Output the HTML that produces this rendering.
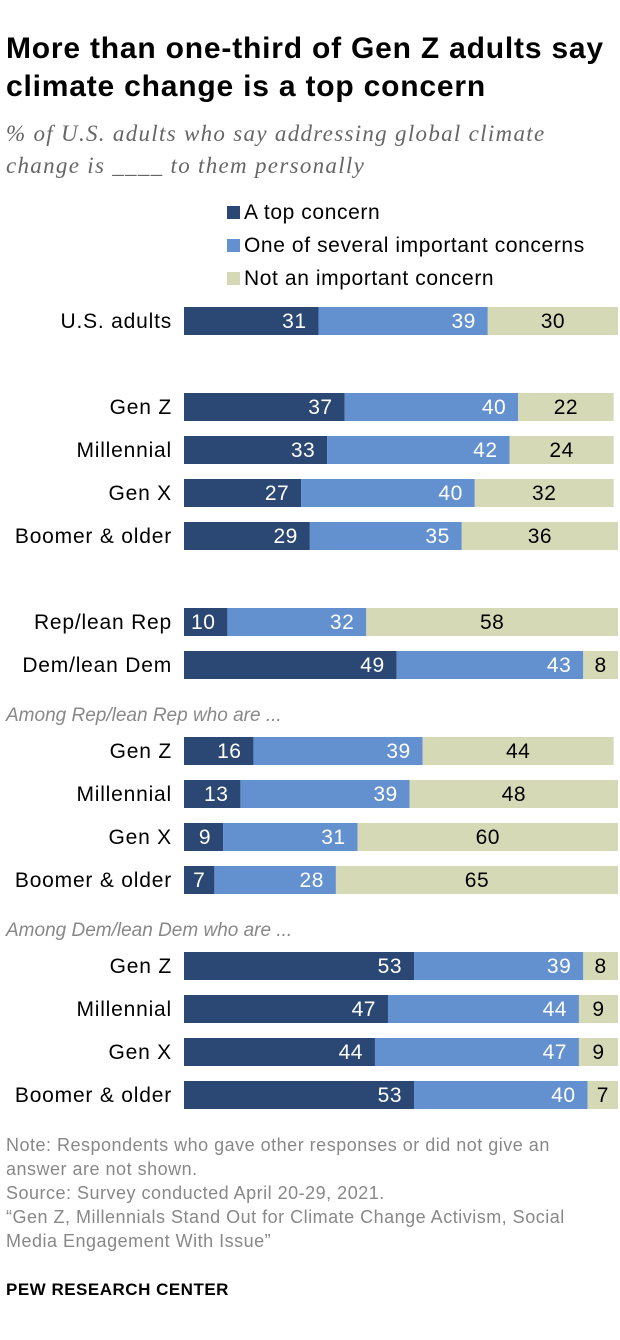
<!DOCTYPE html>
<html><head><meta charset="utf-8"><style>
body{margin:0;background:#fff;font-family:"Liberation Sans",sans-serif;}
#wrap{position:relative;width:620px;height:1340px;overflow:hidden;}
.t{position:absolute;white-space:nowrap;}
</style></head><body>
<div id="wrap">
<div class="t" style="left:6px;top:30px;font-size:30px;letter-spacing:0.8px;font-weight:bold;line-height:38px;color:#000;">More than one-third of Gen Z adults say<br>climate change is a top concern</div>
<div class="t" style="left:6px;top:118px;font-size:23px;letter-spacing:1.3px;font-style:italic;line-height:32px;color:#666;font-family:'Liberation Serif',serif;">% of U.S. adults who say addressing global climate<br>change is ____ to them personally</div>
<div class="t" style="left:227px;top:201px;font-size:21px;letter-spacing:0.6px;"><span style="display:inline-block;width:13px;height:13px;background:#2b4874;margin-right:4px;"></span>A top concern</div>
<div class="t" style="left:227px;top:234px;font-size:21px;letter-spacing:0.6px;"><span style="display:inline-block;width:13px;height:13px;background:#6391d0;margin-right:4px;"></span>One of several important concerns</div>
<div class="t" style="left:227px;top:267px;font-size:21px;letter-spacing:0.6px;"><span style="display:inline-block;width:13px;height:13px;background:#d6d9b6;margin-right:4px;"></span>Not an important concern</div>
<div class="t" style="left:6px;top:705px;font-size:19px;font-style:italic;color:#888;">Among Rep/lean Rep who are ...</div>
<div class="t" style="left:6px;top:920px;font-size:19px;font-style:italic;color:#888;">Among Dem/lean Dem who are ...</div>
<svg id="chart" width="620" height="1340" style="position:absolute;left:0;top:0;"></svg>
<div class="t" style="left:6px;top:1133px;font-size:18px;letter-spacing:0.5px;line-height:24px;color:#888;">Note: Respondents who gave other responses or did not give an<br>answer are not shown.<br>Source: Survey conducted April 20-29, 2021.<br>“Gen Z, Millennials Stand Out for Climate Change Activism, Social<br>Media Engagement With Issue”</div>
<div class="t" style="left:6px;top:1280px;font-size:17px;letter-spacing:0.5px;font-weight:bold;">PEW RESEARCH CENTER</div>
</div>
<script>
const categories=["U.S. adults","Gen Z","Millennial","Gen X","Boomer & older","Rep/lean Rep","Dem/lean Dem","Gen Z","Millennial","Gen X","Boomer & older","Gen Z","Millennial","Gen X","Boomer & older"];
const topConcern=[31,37,33,27,29,10,49,16,13,9,7,53,47,44,53];
const severalConcerns=[39,40,42,40,35,32,43,39,39,31,28,39,44,47,40];
const notImportant=[30,22,24,32,36,58,8,44,48,60,65,8,9,9,7];
const rowY=[321,407,450,493,536,622,665,751,794,837,880,966,1009,1052,1095];
const x0=184,scale=4.34,bh=28;
const xs=v=>v*scale;
const svg=document.getElementById('chart');
const NS='http://www.w3.org/2000/svg';
const series=[topConcern,severalConcerns,notImportant];
const colors=['#2b4874','#6391d0','#d6d9b6'];
const txtCol=['#fff','#fff','#000'];
const names=['top','several','not-important'];
categories.forEach((c,i)=>{
  const y=rowY[i];
  const lb=document.createElementNS(NS,'text');
  
  
  lb.setAttribute('x',172);lb.setAttribute('y',y+7);lb.setAttribute('text-anchor','end');
  lb.setAttribute('font-size','21');lb.setAttribute('letter-spacing','0.8');
  lb.setAttribute('font-family','Liberation Sans, sans-serif');
  lb.textContent=c;svg.appendChild(lb);
  let acc=0;
  series.forEach((s,k)=>{
    const v=s[i];
    const r=document.createElementNS(NS,'rect');
    
    
    r.setAttribute('x',x0+xs(acc));r.setAttribute('y',y-bh/2);
    r.setAttribute('width',xs(v));r.setAttribute('height',bh);r.setAttribute('fill',colors[k]);
    svg.appendChild(r);
    const t=document.createElementNS(NS,'text');
    
    
    const small=v<9;
    if(k==2||small){t.setAttribute('x',x0+xs(acc)+xs(v)/2);t.setAttribute('text-anchor','middle');}
    else{t.setAttribute('x',x0+xs(acc+v)-12);t.setAttribute('text-anchor','end');}
    t.setAttribute('y',y+7);t.setAttribute('font-size','21');t.setAttribute('letter-spacing','0.5');
    t.setAttribute('fill',txtCol[k]);
    t.setAttribute('font-family','Liberation Sans, sans-serif');
    t.textContent=v;svg.appendChild(t);
    acc+=v;
  });
});
</script>
</body></html>
